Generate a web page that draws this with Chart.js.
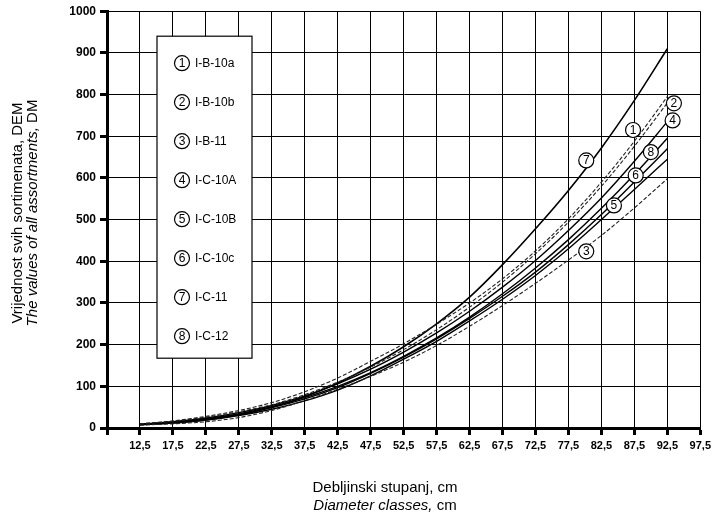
<!DOCTYPE html>
<html>
<head>
<meta charset="utf-8">
<script src="https://cdn.jsdelivr.net/npm/chart.js@4"></script>
<style>
  body { margin: 0; background: #fff; }
  #wrap { width: 715px; height: 519px; }
</style>
</head>
<body>
<div id="wrap"><canvas id="myChart" width="715" height="519"></canvas></div>
<script>
// debljinski stupnjevi (cm)
const diameters = [12.5, 17.5, 22.5, 27.5, 32.5, 37.5, 42.5, 47.5, 52.5, 57.5, 62.5, 67.5, 72.5, 77.5, 82.5, 87.5, 92.5];
const xTicks = [7.5, 12.5, 17.5, 22.5, 27.5, 32.5, 37.5, 42.5, 47.5, 52.5, 57.5, 62.5, 67.5, 72.5, 77.5, 82.5, 87.5, 92.5, 97.5];

// nazivi krivulja
const names = ['I-B-10a', 'I-B-10b', 'I-B-11', 'I-C-10A', 'I-C-10B', 'I-C-10c', 'I-C-11', 'I-C-12'];

// vrijednosti, DEM
const ib10a = [10, 16, 26, 39, 56, 80, 110, 146, 188, 236, 290, 350, 418, 494, 580, 676, 780];
const ib10b = [10, 17, 28, 42, 61, 87, 120, 160, 202, 249, 300, 358, 425, 502, 590, 688, 795];
const ib11  = [7, 10, 15, 25, 42, 66, 93, 124, 158, 198, 244, 294, 347, 403, 462, 528, 598];
const ic10A = [9, 15, 24, 37, 54, 77, 106, 141, 182, 228, 280, 338, 402, 474, 552, 640, 735];
const ic10B = [8, 12, 19, 30, 45, 65, 91, 125, 165, 208, 257, 309, 366, 430, 500, 572, 645];
const ic10c = [8, 13, 21, 33, 49, 70, 97, 131, 170, 214, 263, 316, 374, 440, 512, 590, 670];
const ic11  = [8, 12, 19, 32, 50, 75, 108, 148, 195, 250, 314, 392, 478, 570, 672, 786, 910];
const ic12  = [9, 14, 22, 34, 51, 73, 100, 133, 172, 216, 266, 322, 384, 452, 527, 608, 695];

// oznake na krivuljama (promjer, vrijednost)
const markD = [87.3, 93.5, 80.2, 93.3, 84.4, 87.7, 80.2, 90.0];
const markV = [715, 779, 424, 738, 534, 606, 642, 662];

const series = [ib10a, ib10b, ib11, ic10A, ic10B, ic10c, ic11, ic12];
const dashed = [true, true, true, false, false, false, false, false];

const FONT = "'Liberation Sans', Arial, sans-serif";

function circled(ctx, x, y, n) {
  ctx.beginPath();
  ctx.arc(x, y, 7.5, 0, Math.PI * 2);
  ctx.fillStyle = '#fff';
  ctx.fill();
  ctx.lineWidth = 1.2;
  ctx.strokeStyle = '#000';
  ctx.stroke();
  ctx.fillStyle = '#000';
  ctx.font = '12px ' + FONT;
  ctx.textAlign = 'center';
  ctx.textBaseline = 'middle';
  ctx.fillText(String(n), x, y + 0.5);
}

function drawMixed(ctx, italicPart, plainPart, cx, cy) {
  ctx.font = 'italic 15px ' + FONT;
  const w1 = ctx.measureText(italicPart).width;
  ctx.font = '15px ' + FONT;
  const w2 = ctx.measureText(plainPart).width;
  const x0 = cx - (w1 + w2) / 2;
  ctx.textAlign = 'left';
  ctx.font = 'italic 15px ' + FONT;
  ctx.fillText(italicPart, x0, cy);
  ctx.font = '15px ' + FONT;
  ctx.fillText(plainPart, x0 + w1, cy);
  ctx.textAlign = 'center';
}

// legenda, oznake i naslovi osi
const extras = {
  id: 'extras',
  afterDatasetsDraw(chart) {
    const ctx = chart.ctx;
    const xs = chart.scales.x, ys = chart.scales.y;
    const area = chart.chartArea;
    ctx.save();
    // oznake krivulja
    for (let i = 0; i < markD.length; i++) {
      circled(ctx, xs.getPixelForValue(markD[i]), ys.getPixelForValue(markV[i]), i + 1);
    }
    // legenda
    const bx = area.left + 50, by = area.top + 25, bw = 95, bh = 322;
    ctx.fillStyle = '#fff';
    ctx.fillRect(bx, by, bw, bh);
    ctx.lineWidth = 1.2;
    ctx.strokeStyle = '#000';
    ctx.strokeRect(bx, by, bw, bh);
    for (let i = 0; i < names.length; i++) {
      const cy = by + 27 + i * 39;
      circled(ctx, bx + 25, cy, i + 1);
      ctx.font = '12px ' + FONT;
      ctx.textAlign = 'left';
      ctx.textBaseline = 'middle';
      ctx.fillText(names[i], bx + 38, cy + 0.5);
    }
    // naslov osi x
    ctx.fillStyle = '#000';
    ctx.textAlign = 'center';
    ctx.textBaseline = 'middle';
    ctx.font = '15px ' + FONT;
    ctx.fillText('Debljinski stupanj, cm', 385, 488);
    drawMixed(ctx, 'Diameter classes, ', 'cm', 385, 506);
    // naslov osi y
    ctx.translate(18, 213);
    ctx.rotate(-Math.PI / 2);
    ctx.font = '15px ' + FONT;
    ctx.textAlign = 'center';
    ctx.fillText('Vrijednost svih sortimenata, DEM', 0, 0);
    drawMixed(ctx, 'The values of all assortments, ', 'DM', 0, 15);
    ctx.restore();
  }
};

const data = {
  datasets: series.map(function(s, i) {
    return {
      label: names[i],
      data: s.map(function(v, j) { return { x: diameters[j], y: v }; }),
      borderColor: dashed[i] ? '#222' : '#000',
      borderWidth: i === 6 ? 1.6 : (dashed[i] ? 1.1 : 1.4),
      borderDash: dashed[i] ? [4, 2] : [],
      pointRadius: 0,
      cubicInterpolationMode: 'monotone',
      fill: false
    };
  })
};

const config = {
  type: 'line',
  data,
  options: {
    responsive: false,
    animation: false,
    layout: { padding: { left: 0, right: 10, top: 11, bottom: 0 } },
    plugins: { legend: { display: false }, tooltip: { enabled: false } },
    scales: {
      x: {
        type: 'linear',
        min: 7.5,
        max: 97.5,
        afterBuildTicks: function(scale) {
          scale.ticks = xTicks.map(function(v) { return { value: v }; });
        },
        afterFit: function(scale) { scale.height = 91; },
        grid: { color: '#000', lineWidth: 1, tickLength: 7, tickColor: '#000', tickWidth: 3 },
        border: { color: '#000', width: 3 },
        ticks: {
          autoSkip: false,
          maxRotation: 0,
          padding: 4,
          color: '#000',
          font: { family: FONT, size: 11, weight: 'bold' },
          callback: function(v) { return v === 7.5 ? '' : String(v).replace('.', ','); }
        }
      },
      y: {
        min: 0,
        max: 1000,
        afterFit: function(scale) { scale.width = 107; },
        grid: { color: '#000', lineWidth: 1, tickLength: 7, tickColor: '#000', tickWidth: 3 },
        border: { color: '#000', width: 3 },
        ticks: {
          stepSize: 100,
          padding: 4,
          color: '#000',
          font: { family: FONT, size: 12, weight: 'bold' },
          callback: function(v) { return String(v); }
        }
      }
    }
  },
  plugins: [extras]
};

const myChart = new Chart(document.getElementById('myChart'), config);
</script>
</body>
</html>
